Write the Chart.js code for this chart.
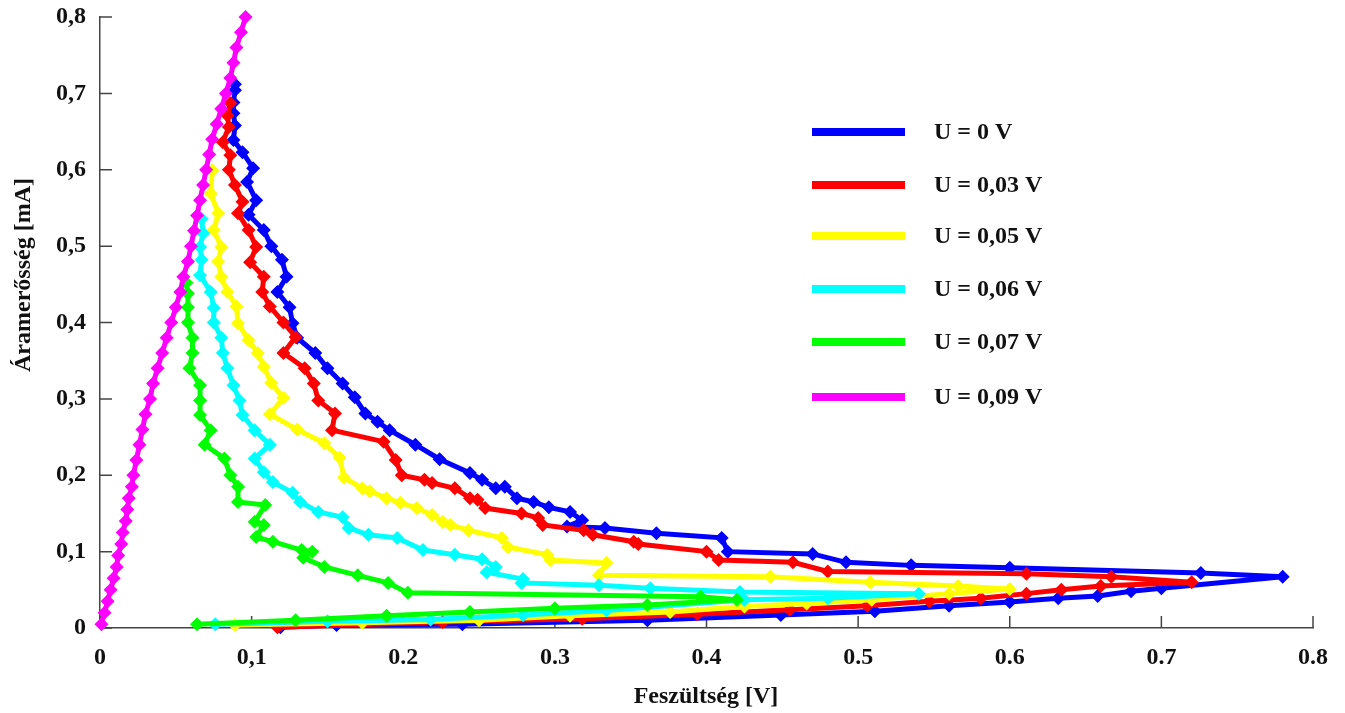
<!DOCTYPE html>
<html>
<head>
<meta charset="utf-8">
<script src="https://cdn.jsdelivr.net/npm/chart.js@4.4.1/dist/chart.umd.min.js"></script>
<style>
  html, body { margin: 0; padding: 0; background: #fff; }
  #wrap { width: 1345px; height: 713px; }
</style>
</head>
<body>
<div id="wrap"><canvas id="ivChart"></canvas></div>
<script>
// tick labels as printed on the original (mixed comma / point on x)
const xTickLabels = ['0', '0,1', '0.2', '0.3', '0.4', '0.5', '0.6', '0.7', '0.8'];
const yTickLabels = ['0', '0,1', '0,2', '0,3', '0,4', '0,5', '0,6', '0,7', '0,8'];

const seriesNames = ['U = 0 V', 'U = 0,03 V', 'U = 0,05 V', 'U = 0,06 V', 'U = 0,07 V', 'U = 0,09 V'];
const seriesColors = ['#0000ff', '#ff0000', '#ffff00', '#00ffff', '#00ff00', '#ff00ff'];

// U = 0 V
const u0V = [0.089, 0.089, 0.088, 0.088, 0.089, 0.088, 0.094, 0.101, 0.097, 0.103, 0.098, 0.108, 0.113, 0.120, 0.123, 0.117, 0.125, 0.127,
  0.130, 0.142, 0.150, 0.160, 0.168, 0.175, 0.183, 0.191, 0.208, 0.224, 0.244, 0.252, 0.261, 0.267, 0.275, 0.286, 0.296, 0.310,
  0.318, 0.308, 0.333, 0.367, 0.410, 0.414, 0.470, 0.492, 0.535, 0.600, 0.726, 0.780,
  0.700, 0.680, 0.658, 0.632, 0.600, 0.560, 0.511, 0.449, 0.361, 0.239, 0.156, 0.119];
const u0I = [0.712, 0.704, 0.688, 0.674, 0.658, 0.639, 0.623, 0.602, 0.584, 0.560, 0.541, 0.521, 0.500, 0.482, 0.460, 0.440, 0.420, 0.399,
  0.380, 0.360, 0.340, 0.320, 0.302, 0.281, 0.270, 0.259, 0.240, 0.221, 0.203, 0.194, 0.183, 0.185, 0.170, 0.165, 0.158, 0.152,
  0.141, 0.133, 0.131, 0.124, 0.118, 0.100, 0.097, 0.086, 0.082, 0.079, 0.072, 0.067,
  0.052, 0.048, 0.042, 0.039, 0.034, 0.029, 0.022, 0.017, 0.010, 0.005, 0.004, 0.001];

// U = 0,03 V
const u003V = [0.086, 0.084, 0.085, 0.081, 0.086, 0.085, 0.089, 0.094, 0.091, 0.098, 0.103, 0.099, 0.108, 0.107, 0.112, 0.121, 0.129,
  0.121, 0.135, 0.141, 0.144, 0.155, 0.153, 0.187, 0.195, 0.199, 0.214, 0.219, 0.234, 0.244, 0.249, 0.254, 0.278, 0.289, 0.292,
  0.319, 0.325, 0.352, 0.355, 0.400, 0.408, 0.457, 0.480, 0.611, 0.667, 0.720,
  0.660, 0.634, 0.611, 0.581, 0.547, 0.506, 0.455, 0.394, 0.318, 0.226, 0.117];
const u003I = [0.687, 0.671, 0.656, 0.636, 0.619, 0.600, 0.580, 0.558, 0.543, 0.521, 0.499, 0.479, 0.460, 0.440, 0.421, 0.400, 0.381,
  0.360, 0.340, 0.320, 0.298, 0.281, 0.259, 0.244, 0.220, 0.200, 0.194, 0.190, 0.183, 0.170, 0.168, 0.157, 0.150, 0.144, 0.135,
  0.128, 0.122, 0.113, 0.110, 0.100, 0.089, 0.086, 0.074, 0.071, 0.067, 0.060,
  0.055, 0.050, 0.045, 0.039, 0.035, 0.029, 0.024, 0.018, 0.012, 0.008, 0.001];

// U = 0,05 V
const u005V = [0.074, 0.073, 0.078, 0.075, 0.080, 0.078, 0.080, 0.084, 0.090, 0.091, 0.098, 0.104, 0.108, 0.113, 0.121, 0.112, 0.130,
  0.148, 0.158, 0.161, 0.173, 0.178, 0.189, 0.198, 0.209, 0.219, 0.226, 0.231, 0.243, 0.265, 0.269, 0.295, 0.297, 0.334, 0.329,
  0.442, 0.508, 0.566, 0.600,
  0.560, 0.509, 0.466, 0.425, 0.376, 0.310, 0.250, 0.173, 0.089];
const u005I = [0.599, 0.569, 0.543, 0.521, 0.499, 0.480, 0.460, 0.440, 0.421, 0.399, 0.377, 0.360, 0.342, 0.321, 0.301, 0.280, 0.260,
  0.242, 0.223, 0.197, 0.183, 0.179, 0.170, 0.164, 0.157, 0.148, 0.139, 0.135, 0.128, 0.118, 0.106, 0.096, 0.089, 0.085, 0.069,
  0.067, 0.060, 0.055, 0.051,
  0.045, 0.037, 0.032, 0.028, 0.021, 0.016, 0.010, 0.007, 0.004];

// U = 0,06 V
const u006V = [0.067, 0.068, 0.066, 0.067, 0.066, 0.073, 0.075, 0.075, 0.080, 0.081, 0.084, 0.088, 0.092, 0.094, 0.102, 0.112, 0.102,
  0.108, 0.114, 0.127, 0.132, 0.144, 0.160, 0.164, 0.177, 0.196, 0.213, 0.234, 0.252, 0.261, 0.255, 0.279, 0.278, 0.329, 0.363,
  0.422, 0.540,
  0.480, 0.425, 0.334, 0.279, 0.218, 0.150, 0.076];
const u006I = [0.536, 0.517, 0.499, 0.482, 0.462, 0.440, 0.419, 0.400, 0.380, 0.360, 0.340, 0.318, 0.298, 0.279, 0.259, 0.240, 0.222,
  0.204, 0.191, 0.177, 0.165, 0.152, 0.145, 0.131, 0.122, 0.118, 0.102, 0.096, 0.090, 0.080, 0.073, 0.064, 0.059, 0.056, 0.052,
  0.047, 0.045,
  0.039, 0.037, 0.023, 0.017, 0.011, 0.009, 0.005];

// U = 0,07 V
const u007V = [0.057, 0.058, 0.058, 0.058, 0.061, 0.061, 0.059, 0.066, 0.066, 0.066, 0.073, 0.069, 0.082, 0.086, 0.091, 0.091, 0.109,
  0.102, 0.108, 0.103, 0.114, 0.133, 0.140, 0.134, 0.148, 0.170, 0.190, 0.203, 0.396, 0.420,
  0.361, 0.300, 0.244, 0.189, 0.129, 0.064];
const u007I = [0.452, 0.438, 0.420, 0.400, 0.380, 0.360, 0.340, 0.318, 0.298, 0.279, 0.259, 0.240, 0.222, 0.200, 0.185, 0.165, 0.161,
  0.139, 0.135, 0.119, 0.113, 0.102, 0.100, 0.092, 0.080, 0.069, 0.059, 0.046, 0.041, 0.037,
  0.030, 0.026, 0.021, 0.016, 0.010, 0.005];

// U = 0,09 V
const u009V = [0.001, 0.003, 0.005, 0.007, 0.009, 0.011, 0.012, 0.014, 0.015, 0.017, 0.018, 0.019, 0.021, 0.022, 0.024, 0.026, 0.028,
  0.030, 0.033, 0.035, 0.038, 0.041, 0.044, 0.047, 0.050, 0.053, 0.055, 0.058, 0.060, 0.062, 0.064, 0.066, 0.068, 0.070, 0.072,
  0.074, 0.077, 0.080, 0.083, 0.086, 0.088, 0.090, 0.093, 0.096];
const u009I = [0.005, 0.020, 0.035, 0.050, 0.065, 0.080, 0.095, 0.110, 0.125, 0.140, 0.155, 0.170, 0.185, 0.200, 0.220, 0.240, 0.260,
  0.280, 0.300, 0.320, 0.340, 0.360, 0.380, 0.400, 0.420, 0.440, 0.460, 0.480, 0.500, 0.520, 0.540, 0.560, 0.580, 0.600, 0.620,
  0.640, 0.660, 0.680, 0.700, 0.720, 0.740, 0.760, 0.780, 0.800];

const seriesV = [u0V, u003V, u005V, u006V, u007V, u009V];
const seriesI = [u0I, u003I, u005I, u006I, u007I, u009I];

const FONT = "'Liberation Serif', 'Times New Roman', serif";

function toPoints(vs, is) {
    return vs.map((v, i) => ({ x: v, y: is[i] }));
}

const datasets = seriesNames.map((name, k) => ({
    label: name,
    data: toPoints(seriesV[k], seriesI[k]),
    showLine: true,
    borderColor: seriesColors[k],
    backgroundColor: seriesColors[k],
    borderWidth: 5,
    pointStyle: 'rectRot',
    pointRadius: 7,
    pointBorderWidth: 0,
    pointBackgroundColor: seriesColors[k],
    tension: 0,
    clip: false,
    order: seriesNames.length - k   // later series drawn on top, like the original
}));

// inward tick marks, axis titles and the in-plot legend
const decorPlugin = {
    id: 'decor',
    beforeDatasetsDraw(chart) {
        const ctx = chart.ctx;
        const xs = chart.scales.x, ys = chart.scales.y;
        ctx.save();
        ctx.strokeStyle = '#444';
        ctx.lineWidth = 1.5;
        ctx.beginPath();
        xs.ticks.forEach(t => {
            const px = xs.getPixelForValue(t.value);
            ctx.moveTo(px, ys.bottom);
            ctx.lineTo(px, ys.bottom - 12);
        });
        ys.ticks.forEach(t => {
            const py = ys.getPixelForValue(t.value);
            ctx.moveTo(xs.left, py);
            ctx.lineTo(xs.left + 12, py);
        });
        ctx.stroke();
        ctx.restore();
    },
    afterDraw(chart) {
        const ctx = chart.ctx;
        ctx.save();
        ctx.fillStyle = '#111';
        ctx.font = 'bold 24px ' + FONT;
        ctx.textAlign = 'center';
        ctx.textBaseline = 'middle';
        ctx.fillText('Feszültség [V]', 706, 697);

        ctx.translate(24, 275);
        ctx.rotate(-Math.PI / 2);
        ctx.fillText('Áramerősség [mA]', 0, 0);
        ctx.restore();

        // legend
        const rows = [132, 185, 236, 289, 342, 397];
        ctx.save();
        ctx.font = 'bold 24px ' + FONT;
        ctx.textAlign = 'left';
        ctx.textBaseline = 'middle';
        chart.data.datasets.forEach((ds, i) => {
            ctx.strokeStyle = ds.borderColor;
            ctx.lineWidth = 8;
            ctx.beginPath();
            ctx.moveTo(812, rows[i]);
            ctx.lineTo(905, rows[i]);
            ctx.stroke();
            ctx.fillStyle = '#111';
            ctx.fillText(ds.label, 934, rows[i] + 1);
        });
        ctx.restore();
    }
};

new Chart(document.getElementById('ivChart'), {
    type: 'scatter',
    data: { datasets },
    plugins: [decorPlugin],
    options: {
        responsive: true,
        maintainAspectRatio: false,
        animation: false,
        events: [],
        layout: { padding: { top: 17, right: 32, left: 0, bottom: 0 } },
        plugins: {
            legend: { display: false },
            tooltip: { enabled: false }
        },
        scales: {
            x: {
                type: 'linear',
                min: 0,
                max: 0.8,
                afterFit: s => { s.height = 85; s.paddingLeft = 0; s.paddingRight = 0; },
                grid: { drawOnChartArea: false, drawTicks: false },
                border: { display: true, color: '#444', width: 1.5 },
                ticks: {
                    stepSize: 0.1,
                    padding: 15,
                    color: '#111',
                    font: { family: FONT, size: 24, weight: 'bold' },
                    maxRotation: 0,
                    autoSkip: false,
                    callback: (v, i) => xTickLabels[i]
                }
            },
            y: {
                type: 'linear',
                min: 0,
                max: 0.8,
                afterFit: s => { s.width = 100; s.paddingTop = 0; s.paddingBottom = 0; },
                grid: { drawOnChartArea: false, drawTicks: false },
                border: { display: true, color: '#444', width: 1.5 },
                ticks: {
                    stepSize: 0.1,
                    padding: 14,
                    color: '#111',
                    font: { family: FONT, size: 24, weight: 'bold' },
                    autoSkip: false,
                    callback: (v, i) => yTickLabels[i]
                }
            }
        }
    }
});
</script>
</body>
</html>
